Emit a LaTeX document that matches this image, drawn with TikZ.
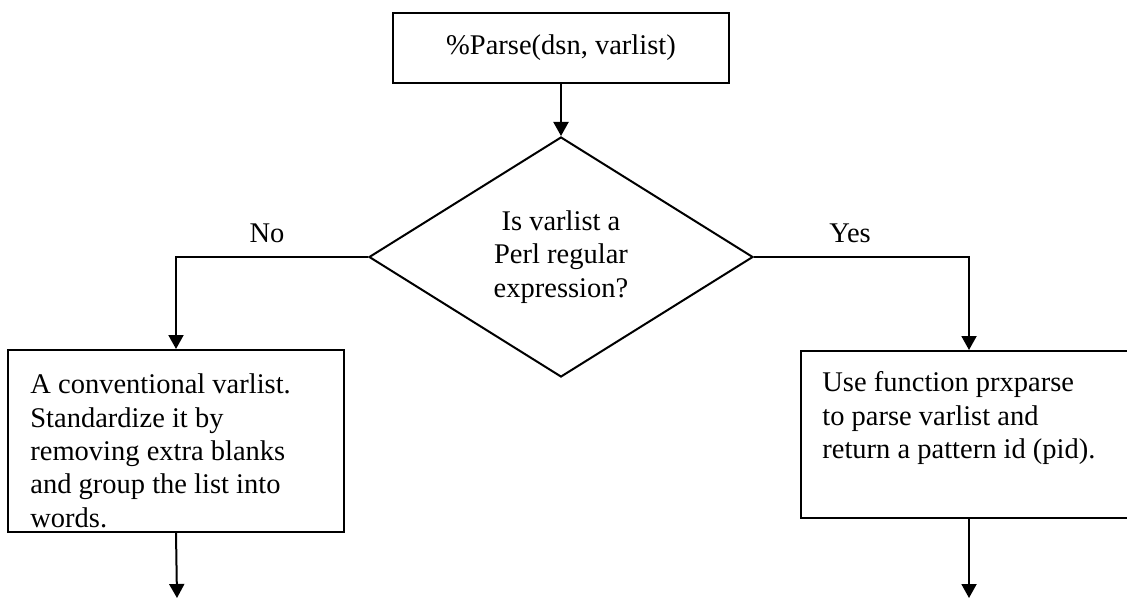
\documentclass[tikz,border=0pt]{standalone}
\usepackage{fontspec}
\setmainfont{Liberation Serif}
\usetikzlibrary{shapes.geometric,arrows.meta}
\begin{document}
\begin{tikzpicture}[x=0.5pt,y=-0.5pt,
  box/.style={draw, line width=1pt, rectangle, inner sep=0pt},
  txt/.style={font=\fontsize{14.25}{16.67}\selectfont, inner sep=0pt},
  arr/.style={line width=1pt, -{Triangle[length=7pt,width=7.5pt]}}]
\useasboundingbox (0,0) rectangle (1127,598);
\clip (0,0) rectangle (1127,598);
% top box
\node[box, txt, minimum width=168pt, minimum height=35pt] (top) at (561,48) {\%Parse(dsn, varlist)};
% decision
\node[diamond, draw, line width=1pt, inner sep=0pt, minimum width=192pt, minimum height=120pt, txt, align=center] (dia) at (561,257)
  {Is varlist a\\Perl regular\\expression?};
% boxes
\node[box, minimum width=168pt, minimum height=91pt] (lbox) at (176,441) {};
\node[box, minimum width=168pt, minimum height=83.5pt] (rbox) at (969,434.5) {};
\node[txt, anchor=north west, align=left] (ltext) at (30,373.5)
  {A conventional varlist.\\Standardize it by\\removing extra blanks\\and group the list into\\words.};
\node[txt, anchor=north west, align=left] (rtext) at (822,371.5)
  {Use function prxparse\\to parse varlist and\\return a pattern id (pid).};
% labels
\node[txt, anchor=base] (no) at (267,243) {No};
\node[txt, anchor=base] (yes) at (850,243) {Yes};
% free ends
\coordinate (lend) at (177,598);
\coordinate (rend) at (969,598);
% connectors
\draw[arr] (top.south) -- (dia.north);
\draw[arr] (dia.west) -| (lbox.north);
\draw[arr] (dia.east) -| (rbox.north);
\draw[arr] (lbox.south) -- (lend);
\draw[arr] (rbox.south) -- (rend);
\end{tikzpicture}
\end{document}
